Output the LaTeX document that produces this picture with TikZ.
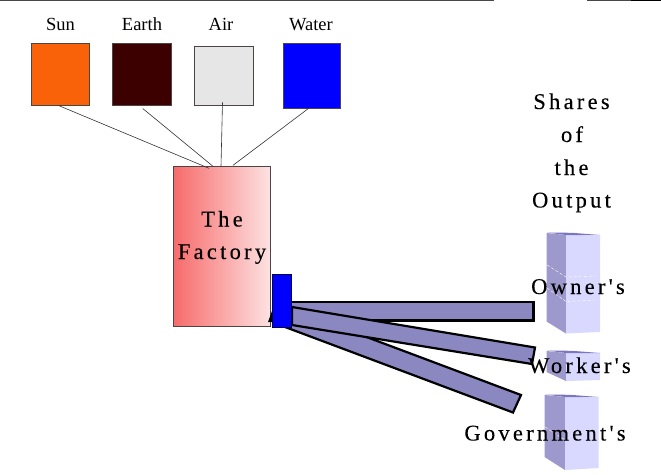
\documentclass[tikz,border=0pt]{standalone}
\usepackage{fontspec}
\setmainfont{Liberation Serif}
\newfontfamily\spaced[LetterSpace=14.5,FakeBold=0.2]{Liberation Serif}
\usetikzlibrary{positioning}
\definecolor{barfill}{HTML}{8A87C1}
\definecolor{faceL}{HTML}{9D99CC}
\definecolor{faceR}{HTML}{D9D8FF}
\definecolor{faceT}{HTML}{7B76C0}
\definecolor{edgeg}{HTML}{4D4545}
\tikzset{
 srcbox/.style={draw=edgeg,line width=0.7pt,inner sep=0pt,outer sep=0pt,anchor=north west},
 srclabel/.style={font=\fontsize{18.5}{22}\selectfont,inner sep=0pt,text=black,anchor=base},
 biglabel/.style={font=\fontsize{22.5}{26}\selectfont\spaced,inner sep=0pt,text=black,anchor=base},
 conn/.style={draw=black!80,line width=0.6pt},
 barshape/.style={draw=black,line width=2.2pt,fill=barfill,line join=miter},
 dashw/.style={draw=white,line width=0.4pt,densely dashed}
}
\begin{document}
\begin{tikzpicture}[x=1pt,y=-1pt]
\useasboundingbox (0,0) rectangle (661,474);
\fill[white] (0,0) rectangle (661,474);
% top rule fragments
\coordinate (r0) at (0,0.4); \coordinate (r1) at (494,0.4); \coordinate (r2) at (587,0.4); \coordinate (r3) at (631,0.4); \coordinate (r4) at (661,0.4);
\draw[edgeg,line width=0.8pt] (r0) -- (r1) (r2) -- (r3);
\draw[black,line width=0.8pt] (r3) -- (r4);
% source boxes
\node[srcbox,minimum width=58pt,minimum height=62pt,fill={rgb,255:red,250;green,98;blue,9}] (sun) at (31.5,43.5) {};
\node[srcbox,minimum width=59.5pt,minimum height=62pt,fill={rgb,255:red,61;green,0;blue,0}] (earth) at (112,43.5) {};
\node[srcbox,minimum width=59pt,minimum height=59pt,fill={rgb,255:red,230;green,230;blue,230}] (air) at (194.5,46.3) {};
\node[srcbox,minimum width=57.5pt,minimum height=64.5pt,fill={rgb,255:red,0;green,0;blue,255}] (water) at (283.3,43.5) {};
\node[srclabel] (lsun) at (60.5,30.5) {Sun};
\node[srclabel] (learth) at (142,30.5) {Earth};
\node[srclabel] (lair) at (221,30.5) {Air};
\node[srclabel] (lwater) at (311,30.5) {Water};
% factory
\node[srcbox,minimum width=97pt,minimum height=160pt,left color={rgb,255:red,247;green,107;blue,107},right color={rgb,255:red,253;green,226;blue,226}] (factory) at (173.5,166.3) {};
\node[biglabel] (lthe) at (222,226.5) {The};
\node[biglabel] (lfac) at (222,259) {Factory};
% connectors
\draw[conn] ([xshift=-2pt]sun.south) -- ([xshift=-13pt,yshift=-2pt]factory.north);
\draw[conn] ([xshift=1pt,yshift=-3pt]earth.south) -- ([xshift=-9pt]factory.north);
\draw[conn] ([xshift=-1.5pt,yshift=3pt]air.south) -- ([xshift=-1pt]factory.north);
\draw[conn] ([xshift=-3pt]water.south) -- ([xshift=11pt,yshift=1pt]factory.north);
% bars
\fill[black] (268,322) -- (272,311) -- (272,322) -- cycle;
\path[barshape] (280,302) -- (533.5,302) -- (533.5,320.5) -- (280,320.5) -- cycle;
\path[barshape] (292,309) -- (521,395) -- (513,412.5) -- (285,327) -- cycle;
\path[barshape] (292,307) -- (535,347.5) -- (532,364) -- (292,325) -- cycle;
\node[srcbox,minimum width=19pt,minimum height=53pt,draw=black!70!blue,fill={rgb,255:red,0;green,0;blue,255}] (valve) at (272.3,274.3) {};
% share blocks: owner
\fill[faceL] (546.5,233) -- (566,235) -- (566,333.5) -- (546.5,321.5) -- cycle;
\fill[faceR] (566,235) -- (600,235.5) -- (600,332) -- (566,333.5) -- cycle;
\fill[faceT] (546.5,232.5) -- (572,232.8) -- (600,235) -- (566,235) -- cycle;
\draw[dashw] (547,265) -- (566,277) -- (596,276);
\draw[dashw] (547,288) -- (566,301.5) -- (596,300);
% worker
\fill[faceL] (546.5,351) -- (566,353) -- (566,381) -- (546.5,372) -- cycle;
\fill[faceR] (566,353) -- (600,353) -- (600,380) -- (566,381) -- cycle;
\fill[faceT] (546.5,350.5) -- (572,350.8) -- (600,353) -- (566,353) -- cycle;
% government
\fill[faceL] (544.5,395) -- (565,397) -- (565,470) -- (544.5,457) -- cycle;
\fill[faceR] (565,397) -- (598.5,397.5) -- (598.5,468) -- (565,470) -- cycle;
\fill[faceT] (544.5,394.5) -- (570,394.8) -- (598.5,397) -- (565,397) -- cycle;
\draw[dashw] (545,427) -- (565,440);
% labels
\node[biglabel] (l1) at (571.5,109) {Shares};
\node[biglabel] (l2) at (572,142) {of};
\node[biglabel] (l3) at (571.5,175) {the};
\node[biglabel] (l4) at (571.5,207.5) {Output};
\node[biglabel] (l5) at (578,294) {Owner's};
\node[biglabel] (l6) at (579.5,373) {Worker's};
\node[biglabel] (l7) at (545,440.5) {Government's};
\end{tikzpicture}
\end{document}
